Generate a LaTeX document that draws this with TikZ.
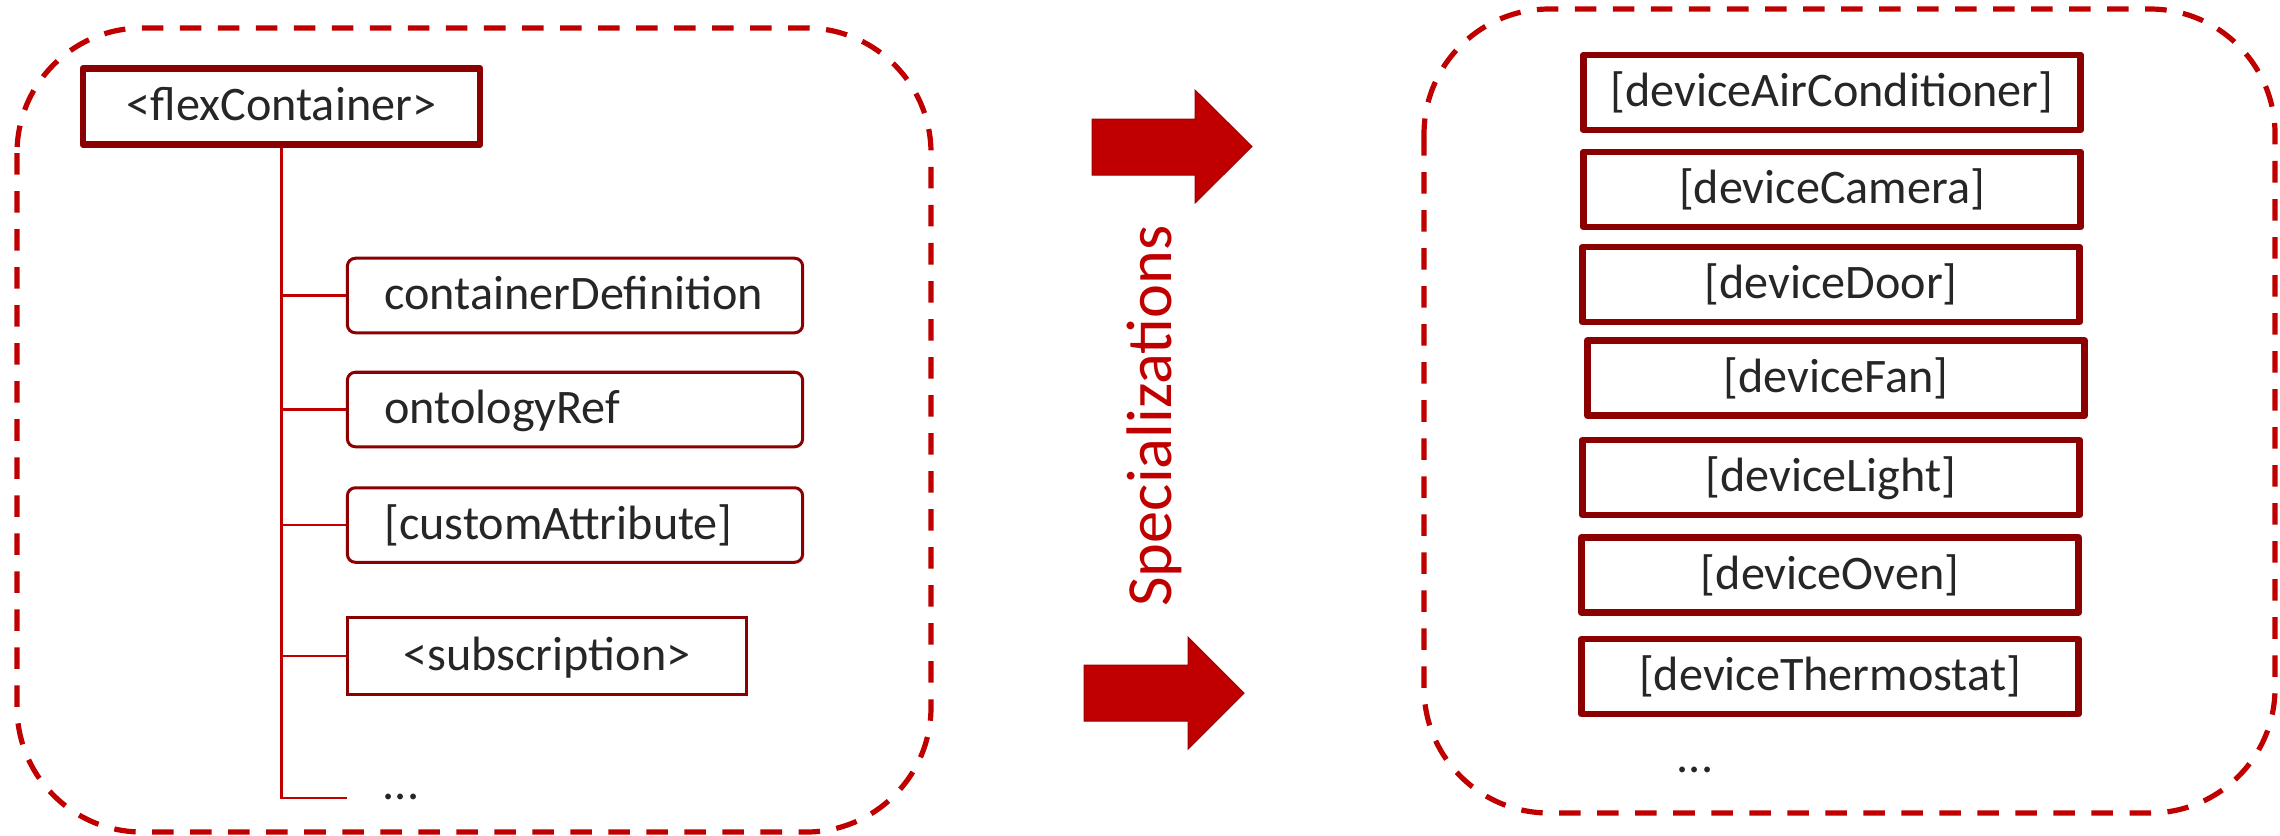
\documentclass[tikz,border=0pt]{standalone}
\usepackage{fontspec}
\setmainfont{Carlito}
\usepackage{xcolor}
\usepackage{tikz}
\usetikzlibrary{positioning}

\definecolor{boxred}{HTML}{8B0000}
\definecolor{linered}{HTML}{C00000}
\definecolor{txtgray}{HTML}{262626}

\begin{document}
\begin{tikzpicture}[x=0.01cm, y=-0.01cm,
    every node/.style={text=txtgray, font=\fontsize{13.7}{16}\selectfont},
    region/.style={draw=linered, line width=0.052cm, dash pattern=on 0.215cm off 0.165cm, rounded corners=1.25cm},
    rootbox/.style={rectangle, draw=boxred, line width=0.066cm, line join=round, minimum width=3.97cm, minimum height=0.76cm, inner sep=0pt, text height=10.7pt, text depth=2.7pt},
    attrbox/.style={rectangle, draw=boxred, line width=0.03cm, rounded corners=0.08cm, text width=3.81cm, inner xsep=0.37cm, inner ysep=0pt, align=left, minimum height=0.745cm, text height=10.7pt, text depth=2.7pt},
    childbox/.style={rectangle, draw=boxred, line width=0.035cm, minimum width=3.99cm, minimum height=0.77cm, inner sep=0pt, text height=10.7pt, text depth=2.7pt},
    devbox/.style={rectangle, draw=boxred, line width=0.065cm, line join=round, minimum width=4.97cm, minimum height=0.75cm, inner sep=0pt, text height=10.7pt, text depth=2.7pt},
    treeline/.style={draw=linered, line width=0.025cm},
    blockarrow/.style={fill=linered, draw=linered!80!black, line width=0.01cm}
]
\useasboundingbox (0,0) rectangle (2280,835);

% left side: the resource and its children
\draw[region] (17,28) rectangle (931,832);

\node[rootbox] (flex) at (281.5,106.5) {<flexContainer>};
\node[attrbox] (contdef) at (575,295.5) {containerDefinition};
\node[attrbox] (ontref) at (575,409.5) {ontologyRef};
\node[attrbox] (custattr) at (575,525) {[customAttribute]};
\node[childbox] (subscr) at (547,656) {<subscription>};
\coordinate (treeend) at (347,798);
\node (moreleft) at (401,797) {...};

\draw[treeline] (flex.south) -- (flex.south |- treeend) -- (treeend);
\draw[treeline] (flex.south |- contdef.west) -- (contdef.west);
\draw[treeline] (flex.south |- ontref.west) -- (ontref.west);
\draw[treeline] (flex.south |- custattr.west) -- (custattr.west);
\draw[treeline] (flex.south |- subscr.west) -- (subscr.west);

% middle: arrows and label
\fill[blockarrow] (1092,119) -- (1195,119) -- (1195,90) -- (1252,146.5) -- (1195,203) -- (1195,175) -- (1092,175) -- cycle;
\fill[blockarrow] (1084,665) -- (1188,665) -- (1188,637) -- (1244,693) -- (1188,749) -- (1188,721) -- (1084,721) -- cycle;
\node[text=linered, rotate=90, font=\fontsize{18.3}{22}\selectfont] (spec) at (1154,416) {Specializations};

% right side: the specializations
\draw[region] (1424,9) rectangle (2275,813);

\node[devbox] (aircon) at (1832,92.5) {[deviceAirConditioner]};
\node[devbox] (camera) at (1832,189.5) {[deviceCamera]};
\node[devbox] (door) at (1831,284.5) {[deviceDoor]};
\node[devbox] (fan) at (1836,378) {[deviceFan]};
\node[devbox] (light) at (1831,477.5) {[deviceLight]};
\node[devbox] (oven) at (1830,575) {[deviceOven]};
\node[devbox] (thermo) at (1830,676.5) {[deviceThermostat]};
\node (moreright) at (1695,770) {...};

\end{tikzpicture}
\end{document}
